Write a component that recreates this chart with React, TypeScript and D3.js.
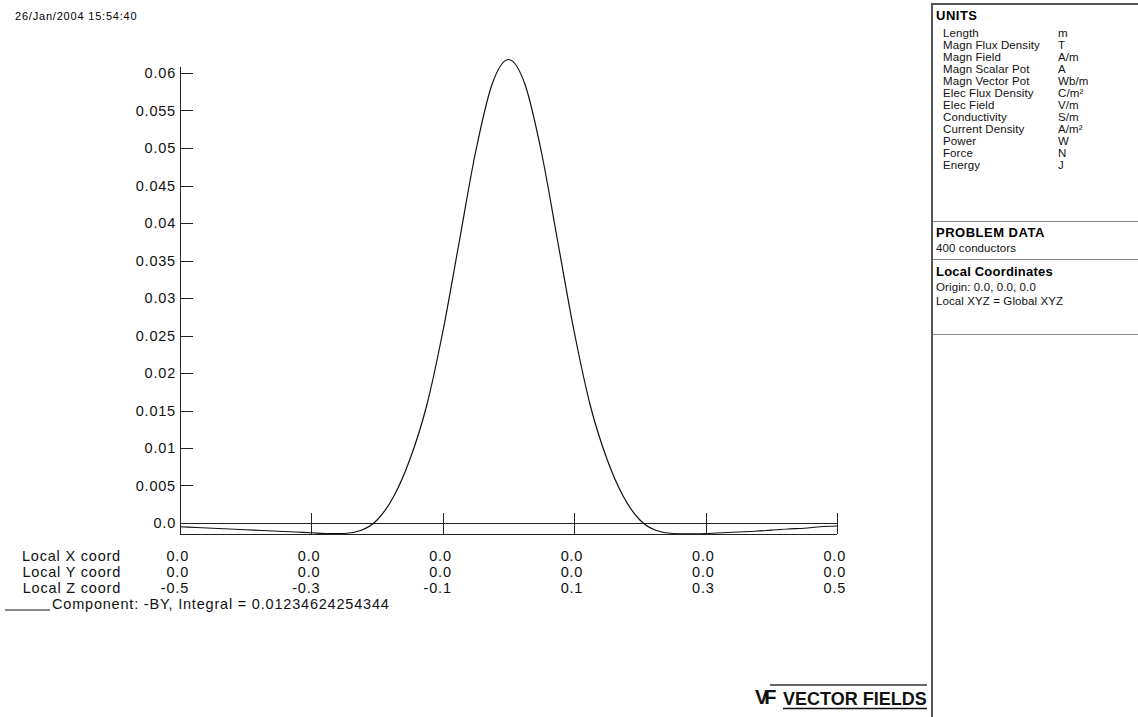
import React, { useEffect, useRef } from "react";
import * as d3 from "d3";

// plot data
const zValues = [
  -0.5, -0.475, -0.45, -0.425, -0.4, -0.375, -0.35, -0.325, -0.3, -0.275, -0.25,
  -0.225, -0.2, -0.175, -0.15, -0.125, -0.1, -0.075, -0.05, -0.025, 0,
  0.025, 0.05, 0.075, 0.1, 0.125, 0.15, 0.175, 0.2, 0.225, 0.25,
  0.275, 0.3, 0.325, 0.35, 0.375, 0.4, 0.425, 0.45, 0.475, 0.5,
];
const byValues = [
  -0.0005, -0.0006, -0.0007, -0.0008, -0.0009, -0.001, -0.0011, -0.0012, -0.0013, -0.0014, -0.0014,
  -0.001, 0.0004, 0.0035, 0.0085, 0.0155, 0.0255, 0.0375, 0.0495, 0.0585, 0.0618,
  0.0585, 0.0495, 0.0375, 0.0255, 0.0155, 0.0085, 0.0035, 0.0004, -0.001, -0.0014,
  -0.00145, -0.0014, -0.0013, -0.0012, -0.0011, -0.00095, -0.0008, -0.0007, -0.0005, -0.0004,
];

const yTicks = [0.005, 0.01, 0.015, 0.02, 0.025, 0.03, 0.035, 0.04, 0.045, 0.05, 0.055, 0.06];
const yTickLabels = ["0.005", "0.01", "0.015", "0.02", "0.025", "0.03", "0.035", "0.04", "0.045", "0.05", "0.055", "0.06"];
const zTicks = [-0.5, -0.3, -0.1, 0.1, 0.3, 0.5];
const rowTitles = ["Local X coord", "Local Y coord", "Local Z coord"];
const xRow = ["0.0", "0.0", "0.0", "0.0", "0.0", "0.0"];
const yRow = ["0.0", "0.0", "0.0", "0.0", "0.0", "0.0"];
const zRow = ["-0.5", "-0.3", "-0.1", "0.1", "0.3", "0.5"];

const unitNames = [
  "Length", "Magn Flux Density", "Magn Field", "Magn Scalar Pot", "Magn Vector Pot",
  "Elec Flux Density", "Elec Field", "Conductivity", "Current Density", "Power", "Force", "Energy",
];
const unitSymbols = ["m", "T", "A/m", "A", "Wb/m", "C/m²", "V/m", "S/m", "A/m²", "W", "N", "J"];

const dateText = "26/Jan/2004 15:54:40";
const legendText = "Component: -BY, Integral = 0.01234624254344";

const font = "'Liberation Sans', Arial, sans-serif";

export default function App() {
  const ref = useRef<SVGSVGElement>(null);

  useEffect(() => {
    const svg = d3.select(ref.current);
    svg.selectAll("*").remove();
    svg.style("font-family", font);

    const x = d3.scaleLinear().domain([-0.5, 0.5]).range([180, 837]);
    const y = d3.scaleLinear().domain([0, 0.06]).range([523, 73]);
    const bottom = 534;

    // date stamp
    svg.append("text")
      .attr("x", 15).attr("y", 20)
      .attr("font-size", 11).attr("letter-spacing", 0.8)
      .text(dateText);

    const plot = svg.append("g").attr("stroke", "#222").attr("shape-rendering", "crispEdges");

    // y axis
    plot.append("line").attr("x1", 180).attr("x2", 180).attr("y1", 67).attr("y2", bottom);
    plot.selectAll(".yt").data(yTicks).join("line")
      .attr("x1", 180).attr("x2", 193)
      .attr("y1", (d) => Math.round(y(d))).attr("y2", (d) => Math.round(y(d)));

    // zero line and bottom frame
    plot.append("line").attr("x1", 180).attr("x2", 837).attr("y1", y(0)).attr("y2", y(0));
    plot.append("line").attr("x1", 180).attr("x2", 837).attr("y1", bottom).attr("y2", bottom);
    plot.selectAll(".xt").data(zTicks.slice(1)).join("line")
      .attr("x1", (d) => Math.round(x(d))).attr("x2", (d) => Math.round(x(d)))
      .attr("y1", 513).attr("y2", bottom);

    // y labels
    const labels = svg.append("g").attr("font-size", 14.5).attr("fill", "#111").attr("letter-spacing", 0.8);
    labels.selectAll(".yl").data(yTicks).join("text")
      .attr("x", 176).attr("y", (d) => y(d) + 5)
      .attr("text-anchor", "end")
      .text((d, i) => yTickLabels[i]);
    labels.append("text").attr("x", 176).attr("y", y(0) + 5).attr("text-anchor", "end").text("0.0");

    // curve
    const pts = zValues.map((z, i) => [z, byValues[i]] as [number, number]);
    const line = d3.line<[number, number]>()
      .x((d) => x(d[0]))
      .y((d) => Math.min(y(d[1]), bottom))
      .curve(d3.curveMonotoneX);
    svg.append("path")
      .attr("d", line(pts))
      .attr("fill", "none")
      .attr("stroke", "#111")
      .attr("stroke-width", 1.2);

    // coordinate rows
    const rows = [xRow, yRow, zRow];
    rows.forEach((row, r) => {
      const by = 561 + r * 16;
      labels.append("text").attr("x", 121).attr("y", by).attr("text-anchor", "end").text(rowTitles[r]);
      labels.selectAll(".r" + r).data(zTicks).join("text")
        .attr("x", (d) => x(d) + 9).attr("y", by)
        .attr("text-anchor", "end")
        .text((d, i) => row[i]);
    });

    // legend
    svg.append("line").attr("x1", 5).attr("x2", 50).attr("y1", 610).attr("y2", 610).attr("stroke", "#111");
    labels.append("text").attr("x", 52).attr("y", 609).text(legendText);

    // side panel
    const panel = svg.append("g");
    panel.append("path")
      .attr("d", "M932,717 V4 H1140")
      .attr("fill", "none").attr("stroke", "#555").attr("stroke-width", 2);
    panel.append("text").attr("x", 936).attr("y", 20)
      .attr("font-size", 13).attr("font-weight", "bold").attr("letter-spacing", 0.5).text("UNITS");
    const ut = panel.append("g").attr("font-size", 11.5).attr("letter-spacing", 0.1).attr("fill", "#111");
    ut.selectAll(".un").data(unitNames).join("text")
      .attr("x", 943).attr("y", (d, i) => 37 + i * 12).text((d) => d);
    ut.selectAll(".us").data(unitSymbols).join("text")
      .attr("x", 1058).attr("y", (d, i) => 37 + i * 12).text((d) => d);

    const sep = (yy: number) => panel.append("line")
      .attr("x1", 933).attr("x2", 1138).attr("y1", yy).attr("y2", yy)
      .attr("stroke", "#888").attr("shape-rendering", "crispEdges");
    sep(221);
    panel.append("text").attr("x", 936).attr("y", 237)
      .attr("font-size", 13).attr("font-weight", "bold").attr("letter-spacing", 0.5).text("PROBLEM DATA");
    ut.append("text").attr("x", 936).attr("y", 252).text("400 conductors");
    sep(259);
    panel.append("text").attr("x", 936).attr("y", 276)
      .attr("font-size", 13).attr("font-weight", "bold").attr("letter-spacing", 0.2).text("Local Coordinates");
    ut.append("text").attr("x", 936).attr("y", 291).text("Origin: 0.0, 0.0, 0.0");
    ut.append("text").attr("x", 936).attr("y", 305).text("Local XYZ = Global XYZ");
    sep(334);

    // logo
    const logo = svg.append("g").attr("font-weight", "bold").attr("fill", "#111");
    logo.append("text").attr("x", 755).attr("y", 704).attr("font-size", 20).attr("letter-spacing", -4).text("VF");
    logo.append("text").attr("x", 783).attr("y", 705).attr("font-size", 18).text("VECTOR FIELDS");
    logo.append("line").attr("x1", 770).attr("x2", 927).attr("y1", 685).attr("y2", 685)
      .attr("stroke", "#333").attr("stroke-width", 1.5);
    logo.append("line").attr("x1", 783).attr("x2", 927).attr("y1", 708.5).attr("y2", 708.5)
      .attr("stroke", "#111").attr("stroke-width", 1.5);
  }, []);

  return (
    <svg
      ref={ref}
      width={1138}
      height={717}
      style={{ position: "absolute", left: 0, top: 0, background: "#fff" }}
    />
  );
}
